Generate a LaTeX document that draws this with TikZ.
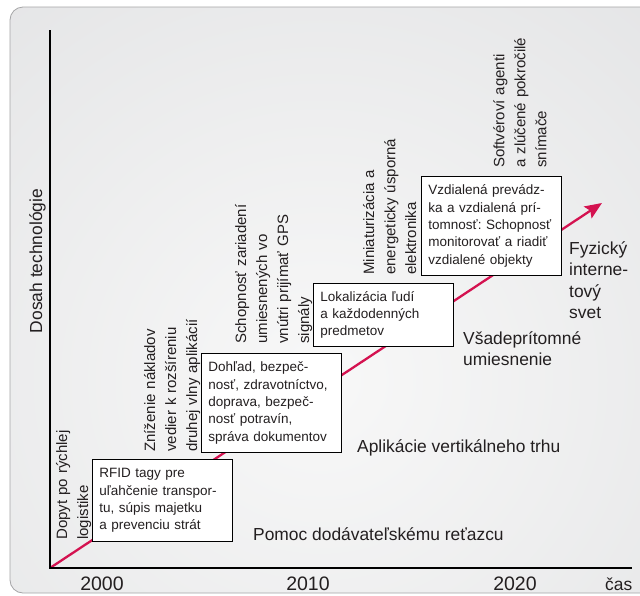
\documentclass[tikz,border=0pt]{standalone}
\usepackage{fontspec}
\setmainfont{Liberation Sans}
\usetikzlibrary{positioning,arrows.meta}
\definecolor{trendred}{RGB}{212,18,80}
\definecolor{panelin}{RGB}{248,248,248}
\definecolor{panelout}{RGB}{217,218,220}
\definecolor{panelrim}{RGB}{165,165,167}
\definecolor{inktext}{RGB}{35,31,32}
\frenchspacing

\begin{document}
\begin{tikzpicture}[
    x = 1pt, y = -1pt,
    > = {Stealth[length=17pt, width=14pt, inset=3pt]},
    every node/.style = {inner sep=0pt, text=inktext},
    infobox/.style = {draw=black, line width=0.9pt, fill=white, anchor=north west,
        text width=126pt, inner xsep=7pt, align=left,
        font=\fontsize{13.5}{17.3}\selectfont},
    driver/.style = {rotate=90, anchor=north west, text width=170pt, align=left,
        font=\fontsize{15}{21}\selectfont},
    phase/.style = {align=left, font=\fontsize{17.4}{21.5}\selectfont},
    yearlabel/.style = {anchor=base, font=\fontsize{19.5}{20}\selectfont}
]
    \useasboundingbox (0,0) rectangle (640,595);
    \fill[white] (0,0) rectangle (640,595);

    % panel
    \begin{scope}
        \clip[rounded corners=13pt] (10,7) rectangle (700,593);
        \shade[inner color=panelin, outer color=panelout] (-500,-420) rectangle (1140,1180);
    \end{scope}
    \draw[panelrim, line width=0.8pt, rounded corners=13pt] (10,7) rectangle (700,593);

    % axes and trend
    \coordinate (origin) at (50,568);
    \coordinate (ytop) at (50,30);
    \coordinate (xend) at (632,568);
    \coordinate (tip) at (602,203);
    \draw[->, trendred, line width=2.3pt] (origin) -- (tip);
    \draw[black, line width=2.2pt] (ytop) -- (origin) -- (xend);

    % application boxes
    \node[infobox, minimum height=82pt] (rfid) at (92,459)
        {RFID tagy pre\\uľahčenie transpor-\\tu, súpis majetku\\a prevenciu strát};
    \node[infobox, minimum height=99pt] (dohlad) at (201,353)
        {Dohľad, bezpeč-\\nosť, zdravotníctvo,\\doprava, bezpeč-\\nosť potravín,\\správa dokumentov};
    \node[infobox, minimum height=63pt] (lokal) at (313,283)
        {Lokalizácia ľudí\\a každodenných\\predmetov};
    \node[infobox, minimum height=99pt] (remote) at (421,176)
        {Vzdialená prevádz-\\ka a vzdialená prí-\\tomnosť: Schopnosť\\monitorovať a riadiť\\vzdialené objekty};

    % drivers
    \node[driver] (dopyt) at (56,540) {Dopyt po rýchlej\\logistike};
    \node[driver] (naklady) at (144,452) {Zníženie nákladov\\vedier k rozšíreniu\\druhej vlny aplikácií};
    \node[driver] (gps) at (235,344) {Schopnosť zariadení\\umiesnených vo\\vnútri prijímať GPS\\signály};
    \node[driver] (mini) at (363,275) {Miniaturizácia a\\energeticky úsporná\\elektronika};
    \node[driver] (agenti) at (493,168) {Softvéroví agenti\\a zlúčené pokročilé\\snímače};

    % phases
    \node[phase, anchor=north west] (fyzicky) at (569,241) {Fyzický\\interne-\\tový\\svet};
    \node[phase, anchor=north west] (vsade) at (463,331) {Všadeprítomné\\umiesnenie};
    \node[phase, anchor=base west] (trh) at (357,452) {Aplikácie vertikálneho trhu};
    \node[phase, anchor=base west] (pomoc) at (253,540) {Pomoc dodávateľskému reťazcu};

    % axis labels
    \node[phase, rotate=90, anchor=base] (dosah) at (42,261) {Dosah technológie};
    \node[yearlabel] (y2000) at (102,590) {2000};
    \node[yearlabel] (y2010) at (308,590) {2010};
    \node[yearlabel] (y2020) at (515,590) {2020};
    \node[phase, anchor=base west] (cas) at (605,590) {čas};
\end{tikzpicture}
\end{document}
